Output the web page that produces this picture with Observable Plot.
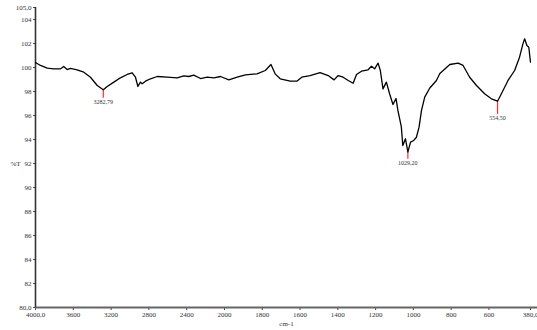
<!DOCTYPE html>
<html>
<head>
<meta charset="utf-8">
<script src="https://cdn.jsdelivr.net/npm/d3@7"></script>
<script src="https://cdn.jsdelivr.net/npm/@observablehq/plot@0.6"></script>
<style>
  html, body { margin: 0; padding: 0; background: #fff; }
  #chart svg { display: block; }
  #chart svg, #chart svg text { font-family: "Liberation Serif", "DejaVu Serif", serif !important; }
</style>
</head>
<body>
<div id="chart"></div>
<script>
// Spectrum (wavenumber cm-1, %T)
const wavenumbers = [4000, 3947, 3876, 3806, 3735, 3701, 3665, 3630, 3559, 3489, 3418, 3347, 3283, 3241, 3171, 3101, 3030, 2977, 2942, 2917, 2889, 2871, 2836, 2783, 2712, 2606, 2501, 2431, 2378, 2325, 2254, 2183, 2113, 2042, 1977, 1933, 1889, 1828, 1784, 1754, 1732, 1705, 1652, 1617, 1591, 1547, 1494, 1451, 1420, 1398, 1372, 1345, 1319, 1301, 1275, 1240, 1222, 1205, 1187, 1175, 1161, 1143, 1126, 1108, 1092, 1082, 1064, 1056, 1042, 1029.2, 1015, 998, 984, 970, 957, 940, 913, 878, 860, 807, 763, 737, 702, 666, 623, 587, 554.5, 534, 499, 464, 438, 420, 411, 399, 389, 380];
const transmittance = [100.42, 100.17, 99.94, 99.89, 99.89, 100.08, 99.83, 99.92, 99.81, 99.61, 99.19, 98.5, 98.14, 98.42, 98.78, 99.14, 99.42, 99.56, 99.19, 98.42, 98.78, 98.64, 98.86, 99.06, 99.25, 99.19, 99.14, 99.31, 99.25, 99.36, 99.08, 99.19, 99.14, 99.25, 98.97, 99.19, 99.39, 99.47, 99.75, 100.25, 99.47, 99.06, 98.86, 98.86, 99.19, 99.33, 99.58, 99.33, 98.97, 99.33, 99.19, 98.92, 98.69, 99.42, 99.69, 99.81, 100.11, 99.89, 100.36, 99.75, 98.22, 98.78, 97.81, 96.92, 97.42, 96.42, 95.08, 93.5, 94.06, 92.96, 93.78, 93.92, 94.19, 95.03, 96.42, 97.53, 98.29, 98.92, 99.5, 100.25, 100.36, 100.17, 99.19, 98.5, 97.81, 97.39, 97.19, 97.81, 98.92, 99.75, 100.86, 101.97, 102.39, 101.83, 101.69, 100.44];

// Peak picks
const peakWavenumbers = [3282.79, 1029.20, 554.50];
const peakT = [98.14, 92.96, 97.19];
const peakLabels = ["3282,79", "1029,20", "554,50"];
const peakMarkerDepth = [0.7, 0.6, 1.1];

// Axis ticks
const xTickValues = [4000, 3600, 3200, 2800, 2400, 2000, 1800, 1600, 1400, 1200, 1000, 800, 600, 380];
const xTickLabels = ["4000,0", "3600", "3200", "2800", "2400", "2000", "1800", "1600", "1400", "1200", "1000", "800", "600", "380,0"];
const yTickValues = [105, 104, 102, 100, 98, 96, 94, 92, 90, 88, 86, 84, 82, 80];
const yTickLabels = ["105,0", "104", "102", "100", "98", "96", "94", "92", "90", "88", "86", "84", "82", "80,0"];

const spectrum = wavenumbers.map((w, i) => ({w, t: transmittance[i]}));
const peaks = peakWavenumbers.map((w, i) => ({w, t: peakT[i], bottom: peakT[i] - peakMarkerDepth[i], label: peakLabels[i]}));

const chart = Plot.plot({
  width: 537,
  height: 330,
  marginLeft: 35,
  marginRight: 0,
  marginTop: 7,
  marginBottom: 23,
  style: {fontSize: "7px", color: "#333", background: "#fff"},
  x: {type: "linear", domain: [4000, 2000, 380], range: [35, 224, 530]},
  y: {domain: [80, 105]},
  marks: [
    Plot.axisX({ticks: xTickValues, tickFormat: (d) => xTickLabels[xTickValues.indexOf(d)], tickSize: 3, tickPadding: 2, label: "cm-1", labelAnchor: "center", labelArrow: "none", labelOffset: 18, stroke: "#444", fill: "#333", fontSize: 7}),
    Plot.axisY({ticks: yTickValues, tickFormat: (d) => yTickLabels[yTickValues.indexOf(d)], tickSize: 2, tickPadding: 2, label: null, stroke: "#444", fill: "#333", fontSize: 7}),
    Plot.text(["%T"], {y: [92], frameAnchor: "left", dx: -25, text: (d) => d, fill: "#333", fontSize: 7}),
    Plot.ruleY([80], {stroke: "#666", strokeWidth: 2}),
    Plot.ruleX([4000], {stroke: "#333", strokeWidth: 1.6}),
    Plot.ruleX(peaks, {x: "w", y1: "t", y2: "bottom", stroke: "#ff2a2a", strokeWidth: 1.2}),
    Plot.text(peaks, {x: "w", y: "bottom", text: "label", lineAnchor: "top", dy: 1.5, fill: "#333", fontSize: 6}),
    Plot.line(spectrum, {x: "w", y: "t", stroke: "#000", strokeWidth: 1.3, curve: "linear"})
  ]
});
document.getElementById("chart").appendChild(chart);
</script>
</body>
</html>
